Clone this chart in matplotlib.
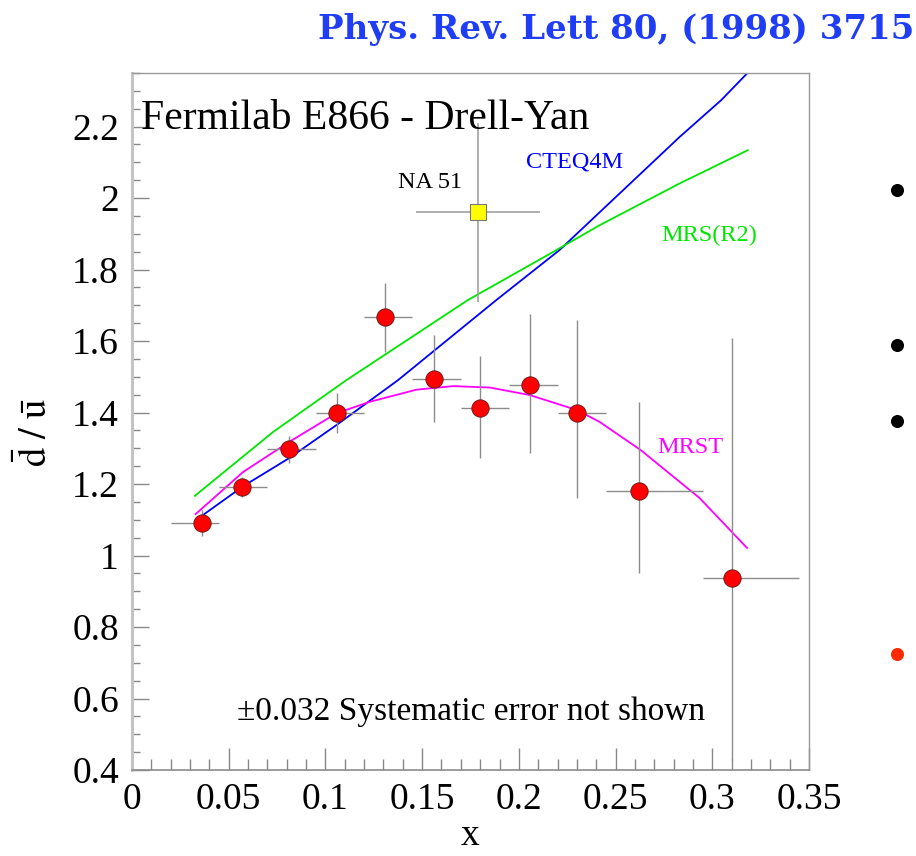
import matplotlib
matplotlib.use("Agg")
import matplotlib.pyplot as plt
from matplotlib.lines import Line2D
import numpy as np

plt.rcParams["font.family"] = ["Liberation Serif", "DejaVu Serif"]
plt.rcParams["mathtext.fontset"] = "stix"

# E866 dbar/ubar points
x_e866 = np.array([0.036, 0.057, 0.081, 0.106, 0.131, 0.156, 0.180, 0.206, 0.230, 0.262, 0.310])
r_e866 = np.array([1.091, 1.193, 1.297, 1.399, 1.667, 1.494, 1.413, 1.477, 1.399, 1.180, 0.937])
err_lo = np.array([0.036, 0.028, 0.037, 0.056, 0.098, 0.121, 0.140, 0.190, 0.238, 0.229, 0.509])
err_hi = np.array([0.036, 0.028, 0.037, 0.056, 0.095, 0.123, 0.145, 0.199, 0.260, 0.249, 0.671])
x_lo = np.array([0.020, 0.045, 0.070, 0.095, 0.120, 0.145, 0.170, 0.195, 0.220, 0.245, 0.295])
x_hi = np.array([0.045, 0.070, 0.095, 0.120, 0.145, 0.170, 0.195, 0.220, 0.245, 0.295, 0.345])

# NA51 point
x_na51 = 0.179
r_na51 = 1.96
err_na51 = 0.25
xlo_na51, xhi_na51 = 0.147, 0.211

# parametrisations
cteq_x = [0.033, 0.0575, 0.0811, 0.1057, 0.1376, 0.1884, 0.2211, 0.2831, 0.3046, 0.32]
cteq_y = [1.099, 1.194, 1.272, 1.365, 1.491, 1.715, 1.855, 2.171, 2.274, 2.36]
mrs_x = [0.0325, 0.073, 0.1109, 0.1737, 0.2176, 0.2417, 0.2831, 0.3183]
mrs_y = [1.167, 1.346, 1.491, 1.715, 1.849, 1.924, 2.041, 2.134]
mrst_x = [0.0329, 0.0575, 0.0813, 0.1057, 0.1229, 0.147, 0.166, 0.185, 0.2056, 0.230, 0.2417, 0.263, 0.2934, 0.318]
mrst_y = [1.116, 1.234, 1.318, 1.398, 1.430, 1.464, 1.474, 1.470, 1.449, 1.407, 1.374, 1.295, 1.161, 1.021]

fig = plt.figure(figsize=(9.16, 8.56), dpi=100)
ax = fig.add_axes([132 / 916, 1 - 770 / 856, 677 / 916, 697 / 856])

ax.plot(cteq_x, cteq_y, color="#0000ff", lw=1.3, zorder=2)
ax.plot(mrs_x, mrs_y, color="#00e600", lw=1.3, zorder=2)
ax.plot(mrst_x, mrst_y, color="#ff00ff", lw=1.3, zorder=2)

ax.errorbar(x_e866, r_e866, yerr=[err_lo, err_hi], xerr=[x_e866 - x_lo, x_hi - x_e866],
            fmt="o", ms=12.5, mfc="#ff0000", mec="#5a1a1a", mew=0.6,
            ecolor="#8c8c8c", elinewidth=1.0, capsize=0, zorder=3)
ax.errorbar([x_na51], [r_na51], yerr=err_na51,
            xerr=[[x_na51 - xlo_na51], [xhi_na51 - x_na51]],
            fmt="s", ms=11, mfc="#ffff00", mec="#777777", mew=0.8,
            ecolor="#999999", elinewidth=1.1, capsize=0, zorder=3)

ax.text(0.2288, 2.101, "CTEQ4M", color="#0000ff", fontsize=17.5, ha="center", va="center")
ax.text(0.2986, 1.896, "MRS(R2)", color="#00e600", fontsize=17.5, ha="center", va="center")
ax.text(0.2887, 1.301, "MRST", color="#ff00ff", fontsize=17.5, ha="center", va="center")
ax.text(0.1539, 2.045, "NA 51", color="black", fontsize=17.5, ha="center", va="center")
ax.text(0.0046, 2.192, "Fermilab E866 - Drell-Yan", fontsize=30, ha="left", va="baseline")
ax.text(0.0541, 0.540, "\u00b10.032 Systematic error not shown", fontsize=24, ha="left", va="baseline")

ax.set_xlim(0, 0.35)
ax.set_ylim(0.4, 2.35)
ax.set_xticks(np.arange(0, 0.351, 0.05))
ax.set_xticklabels(["0", "0.05", "0.1", "0.15", "0.2", "0.25", "0.3", "0.35"])
ax.set_xticks(np.arange(0, 0.351, 0.01), minor=True)
ax.set_yticks(np.arange(0.4, 2.21, 0.2))
ax.set_yticklabels(["0.4", "0.6", "0.8", "1", "1.2", "1.4", "1.6", "1.8", "2", "2.2"])
ax.set_yticks(np.arange(0.4, 2.351, 0.05), minor=True)

ax.tick_params(axis="both", which="both", direction="in", colors="#888888",
               labelcolor="black", labelsize=27, width=1.0)
ax.tick_params(axis="x", which="major", length=15.8, pad=9)
ax.tick_params(axis="x", which="minor", length=7.9)
ax.tick_params(axis="y", which="major", length=12.2, pad=9.4)
ax.tick_params(axis="y", which="minor", length=6.1)

for side in ["top", "right"]:
    ax.spines[side].set_color("#999999")
    ax.spines[side].set_linewidth(1.0)
ax.spines["left"].set_color("#c4c4c4")
ax.spines["left"].set_linewidth(2.2)
ax.spines["bottom"].set_color("#8c8c8c")
ax.spines["bottom"].set_linewidth(1.2)

fig.text(470 / 916, 1 - 836 / 856, "x", fontsize=27, ha="center", va="center")
fig.text(37 / 916, 1 - 432 / 856, r"$\bar{\rm d}\ /\ \bar{\rm u}$", fontsize=28,
         rotation=90, ha="center", va="center")

fig.text(914 / 916, 1 - 30 / 856, "Phys. Rev. Lett 80, (1998) 3715", color="#1f3df5",
         fontsize=24.5, fontweight="bold", family="DejaVu Serif", ha="right", va="center")

# slide bullets down the right edge
bullet_y = [190, 345, 421, 654]
bullet_c = ["black", "black", "black", "#ff2a00"]
for by, bc in zip(bullet_y, bullet_c):
    fig.add_artist(Line2D([897 / 916], [1 - by / 856], marker="o", ms=9.4, color=bc,
                          mec="none", transform=fig.transFigure))

fig.savefig("out.png", dpi=100)
